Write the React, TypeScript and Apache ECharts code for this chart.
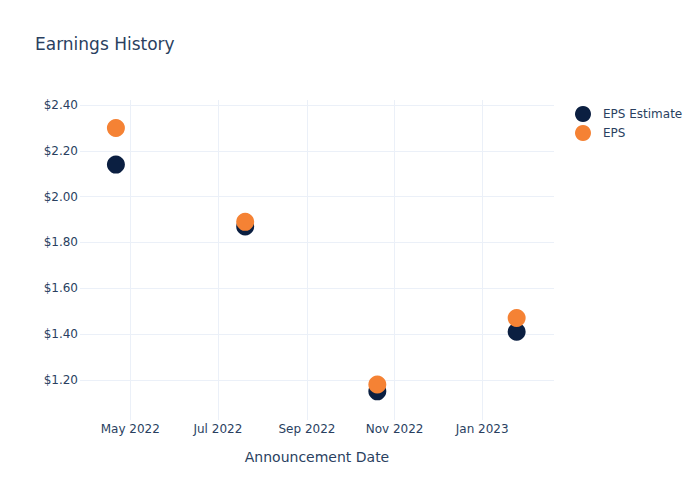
import React, { useEffect, useRef } from "react";
import * as echarts from "echarts";

const dates = ["2022-04-21", "2022-07-20", "2022-10-20", "2023-01-25"];
const epsEstimate = [2.14, 1.87, 1.15, 1.41];
const epsActual = [2.3, 1.89, 1.18, 1.47];
const xTicks = ["2022-05-01", "2022-07-01", "2022-09-01", "2022-11-01", "2023-01-01"];
const yTicks = [1.2, 1.4, 1.6, 1.8, 2.0, 2.2, 2.4];
const monthNames = ["Jan", "Feb", "Mar", "Apr", "May", "Jun", "Jul", "Aug", "Sep", "Oct", "Nov", "Dec"];

const ts = (s: string) => {
  const [y, m, d] = s.split("-").map(Number);
  return Date.UTC(y, m - 1, d);
};

export default function App() {
  const ref = useRef<HTMLDivElement>(null);
  useEffect(() => {
    if (!ref.current) return;
    const chart = echarts.init(ref.current, null, { renderer: "svg" });
    const font = "DejaVu Sans";
    const textColor = "#2a3f5f";
    const gridColor = "#ebf0f8";
    chart.setOption({
      animation: false,
      textStyle: { fontFamily: font },
      title: {
        text: "Earnings History",
        left: 35,
        top: 35,
        padding: 0,
        textStyle: { fontFamily: font, fontSize: 17, fontWeight: "normal", color: textColor },
      },
      legend: {
        orient: "vertical",
        left: 575,
        top: 106,
        padding: 0,
        itemWidth: 16,
        itemHeight: 16,
        itemGap: 3,
        icon: "circle",
        textStyle: { fontFamily: font, fontSize: 12, color: textColor, padding: [0, 0, 0, 7] },
        data: ["EPS Estimate", "EPS"],
      },
      grid: { left: 80, right: 146, top: 100, bottom: 80 },
      xAxis: {
        type: "value",
        min: ts("2022-03-27"),
        max: ts("2023-02-20"),
        name: "Announcement Date",
        nameLocation: "middle",
        nameGap: 30,
        nameTextStyle: { fontFamily: font, fontSize: 14, color: textColor },
        axisLine: { show: false },
        axisTick: { show: false, customValues: xTicks.map(ts) },
        splitLine: { show: true, lineStyle: { color: gridColor, width: 1 } },
        axisLabel: {
          customValues: xTicks.map(ts),
          fontFamily: font,
          fontSize: 12,
          color: textColor,
          margin: 3,
          formatter: (v: number) => {
            const d = new Date(v);
            return monthNames[d.getUTCMonth()] + " " + d.getUTCFullYear();
          },
        },
      },
      yAxis: {
        type: "value",
        min: 1.025,
        max: 2.422,
        axisLine: { show: false },
        axisTick: { show: false, customValues: yTicks },
        splitLine: { show: true, lineStyle: { color: gridColor, width: 1 } },
        axisLabel: {
          customValues: yTicks,
          fontFamily: font,
          fontSize: 12,
          color: textColor,
          margin: 2,
          formatter: (v: number) => "$" + v.toFixed(2),
        },
      },
      series: [
        {
          name: "EPS Estimate",
          type: "scatter",
          symbolSize: 18,
          itemStyle: { color: "#0b1f41", opacity: 1 },
          data: dates.map((d, i) => [ts(d), epsEstimate[i]]),
        },
        {
          name: "EPS",
          type: "scatter",
          symbolSize: 18,
          itemStyle: { color: "#f58234", opacity: 1 },
          data: dates.map((d, i) => [ts(d), epsActual[i]]),
        },
      ],
    });
    return () => chart.dispose();
  }, []);
  return <div ref={ref} style={{ width: 700, height: 500, position: "absolute", left: 0, top: 0 }} />;
}
